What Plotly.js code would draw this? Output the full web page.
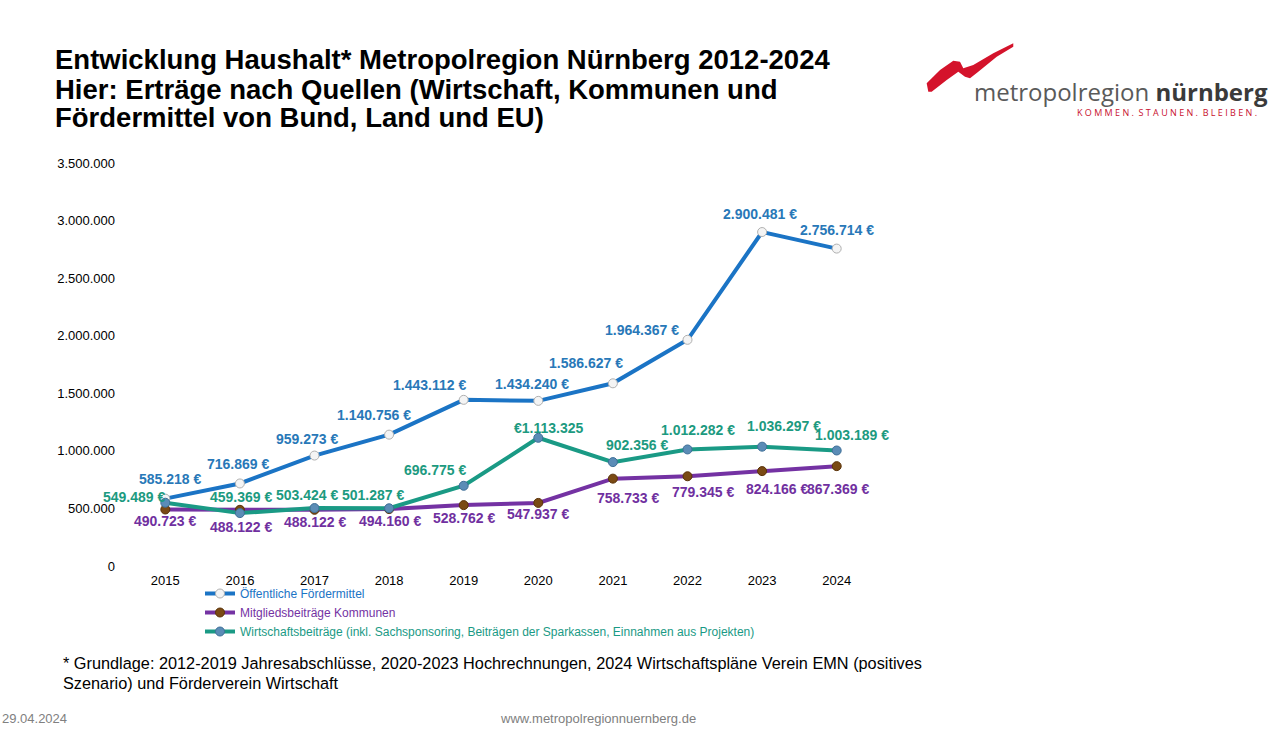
<!DOCTYPE html>
<html><head><meta charset="utf-8">
<script src="https://cdn.plot.ly/plotly-3.0.1.min.js"></script>
<style>html,body{margin:0;padding:0;background:#fff;}#chart{width:1280px;height:734px;}</style>
</head><body><div id="chart"></div>
<script>
// ---- data ----
var years = ['2015','2016','2017','2018','2019','2020','2021','2022','2023','2024'];
var foerdermittel = [585218, 716869, 959273, 1140756, 1443112, 1434240, 1586627, 1964367, 2900481, 2756714];
var mitgliedsbeitraege = [490723, 488122, 488122, 494160, 528762, 547937, 758733, 779345, 824166, 867369];
var wirtschaftsbeitraege = [549489, 459369, 503424, 501287, 696775, 1113325, 902356, 1012282, 1036297, 1003189];
var foerderLabels = ['585.218 €','716.869 €','959.273 €','1.140.756 €','1.443.112 €','1.434.240 €','1.586.627 €','1.964.367 €','2.900.481 €','2.756.714 €'];
var mitgliedLabels = ['490.723 €','488.122 €','488.122 €','494.160 €','528.762 €','547.937 €','758.733 €','779.345 €','824.166 €','867.369 €'];
var wirtschaftLabels = ['549.489 €','459.369 €','503.424 €','501.287 €','696.775 €','€1.113.325','902.356 €','1.012.282 €','1.036.297 €','1.003.189 €'];
var seriesNames = ['Öffentliche Fördermittel','Mitgliedsbeiträge Kommunen','Wirtschaftsbeiträge (inkl. Sachsponsoring, Beiträgen der Sparkassen, Einnahmen aus Projekten)'];

// ---- label offsets in pixels (style only) ----
var foerderOff = [[5,-20],[-2,-19],[-8,-17],[-15,-20],[-34,-15],[-6,-17],[-27,-20],[-46,-10],[-2,-18],[0,-19]];
var mitgliedOff = [[0,11],[1,17],[0,12],[1,12],[0,13],[0,11],[15,19],[15,16],[15,18],[1,23]];
var wirtschaftOff = [[-31,-6],[1,-16],[-8,-13],[-16,-13],[-29,-16],[11,-10],[24,-17],[10,-19],[22,-21],[15,-15]];

// ---- layout helpers (pixel -> paper) ----
var L = 128, R = 406, T = 163, B = 168, W = 1280, H = 734;
var PW = W - L - R, PH = H - T - B;
function px(x){ return (x - L) / PW; }
function py(y){ return (H - B - y) / PH; }

var cBlue = '#1b74c5', cBlueT = '#2878b8';
var cPurple = '#7432a3', cPurpleT = '#7030a0';
var cTeal = '#1a9a85', cTealT = '#1c9a80';
var lblFamily = 'Liberation Sans, Arial, sans-serif';

var traces = [
  {x: years, y: foerdermittel, name: '<span style="color:'+cBlue+'">'+seriesNames[0]+'</span>', type:'scatter', mode:'lines+markers',
   line:{color:cBlue, width:4}, marker:{color:'#f4f4f4', size:9, line:{color:'#b0b0b0', width:1}}},
  {x: years, y: mitgliedsbeitraege, name: '<span style="color:'+cPurple+'">'+seriesNames[1]+'</span>', type:'scatter', mode:'lines+markers',
   line:{color:cPurple, width:4}, marker:{color:'#7a4a14', size:9, line:{color:'#5a3208', width:1}}},
  {x: years, y: wirtschaftsbeitraege, name: '<span style="color:'+cTeal+'">'+seriesNames[2]+'</span>', type:'scatter', mode:'lines+markers',
   line:{color:cTeal, width:4}, marker:{color:'#5b8cb6', size:9, line:{color:'#3f6f98', width:1}}}
];

var ann = [];
function addLabels(vals, labels, offs, color){
  for (var k=0;k<vals.length;k++) ann.push({xref:'x', yref:'y', x:k, y:vals[k], text:'<b>'+labels[k]+'</b>', showarrow:false,
    xanchor:'center', yanchor:'middle', xshift:offs[k][0], yshift:-offs[k][1],
    font:{family:lblFamily, size:14, color:color}});
}
addLabels(wirtschaftsbeitraege, wirtschaftLabels, wirtschaftOff, cTealT);
addLabels(mitgliedsbeitraege, mitgliedLabels, mitgliedOff, cPurpleT);
addLabels(foerdermittel, foerderLabels, foerderOff, cBlueT);

var tf = 'Liberation Sans, Arial, sans-serif';
var titleLines = ['Entwicklung Haushalt* Metropolregion Nürnberg 2012-2024','Hier: Erträge nach Quellen (Wirtschaft, Kommunen und','Fördermittel von Bund, Land und EU)'];
var titleY = [60, 89, 117];
for (var i=0;i<3;i++) ann.push({xref:'paper', yref:'paper', x:px(53), y:py(titleY[i]), xanchor:'left', yanchor:'middle', showarrow:false,
  text:'<b>'+titleLines[i]+'</b>', font:{family:tf, size:27.5, color:'#000'}});
var noteLines = ['* Grundlage: 2012-2019 Jahresabschlüsse, 2020-2023 Hochrechnungen, 2024 Wirtschaftspläne Verein EMN (positives','Szenario) und Förderverein Wirtschaft'];
var noteY = [663, 683];
for (var j=0;j<2;j++) ann.push({xref:'paper', yref:'paper', x:px(61), y:py(noteY[j]), xanchor:'left', yanchor:'middle', showarrow:false,
  text:noteLines[j], font:{family:tf, size:16.3, color:'#000'}});
ann.push({xref:'paper', yref:'paper', x:px(0), y:py(718), xanchor:'left', yanchor:'middle', showarrow:false,
  text:'29.04.2024', font:{family:tf, size:13, color:'#808080'}});
ann.push({xref:'paper', yref:'paper', x:px(598), y:py(718), xanchor:'center', yanchor:'middle', showarrow:false,
  text:'www.metropolregionnuernberg.de', font:{family:tf, size:13, color:'#808080'}});
// logo text
ann.push({xref:'paper', yref:'paper', x:px(972), y:py(91), xanchor:'left', yanchor:'middle', showarrow:false,
  text:'<span style="color:#5a5a5a">metropolregion </span><b style="color:#3a3a3a">nürnberg</b>', font:{family:'Open Sans, sans-serif', size:24, color:'#555'}});
ann.push({xref:'paper', yref:'paper', x:px(1259), y:py(113), xanchor:'right', yanchor:'middle', showarrow:false,
  text:'K O M M E N .  S T A U N E N .  B L E I B E N .', font:{family:'Open Sans, sans-serif', size:9, color:'#c8102e'}});

var sw = [[926.7,83.3],[940,70],[953.3,60.7],[960,61.7],[963.3,68.3],[973.3,65],[993.3,53.3],[1013.3,43.3],
          [1013.3,46.7],[996.7,56.7],[978.3,71.7],[970,78.3],[965,76.7],[958.3,71.7],[946.7,80],[931.7,91.7],[928.3,91.7]];
var path = sw.map(function(p,k){return (k?'L':'M')+px(p[0]).toFixed(4)+','+py(p[1]).toFixed(4);}).join(' ')+' Z';

var layout = {
  width: W, height: H, paper_bgcolor:'#fff', plot_bgcolor:'#fff',
  margin:{l:L, r:R, t:T, b:B, pad:0},
  separators: ',.',
  showlegend: true,
  font:{family:'Liberation Sans, Arial, sans-serif', color:'#000'},
  xaxis:{type:'category', range:[-0.5, 9.5], showgrid:false, zeroline:false, showline:false, ticks:'', ticklabelstandoff:5,
         tickfont:{size:13, color:'#000'}, fixedrange:true},
  yaxis:{range:[0,3500000], dtick:500000, tickformat:',', showgrid:false, zeroline:false, showline:false, ticks:'', ticklabelstandoff:12,
         tickfont:{size:13, color:'#000'}, fixedrange:true},
  legend:{x:px(200), y:py(579), xanchor:'left', yanchor:'top', orientation:'v', bgcolor:'rgba(0,0,0,0)',
          font:{family:tf, size:12}, itemwidth:30, tracegroupgap:0},
  annotations: ann,
  shapes:[{type:'path', xref:'paper', yref:'paper', path:path, fillcolor:'#d4132b', line:{width:0}}]
};
Plotly.newPlot('chart', traces, layout, {displayModeBar:false, staticPlot:true});
</script></body></html>
